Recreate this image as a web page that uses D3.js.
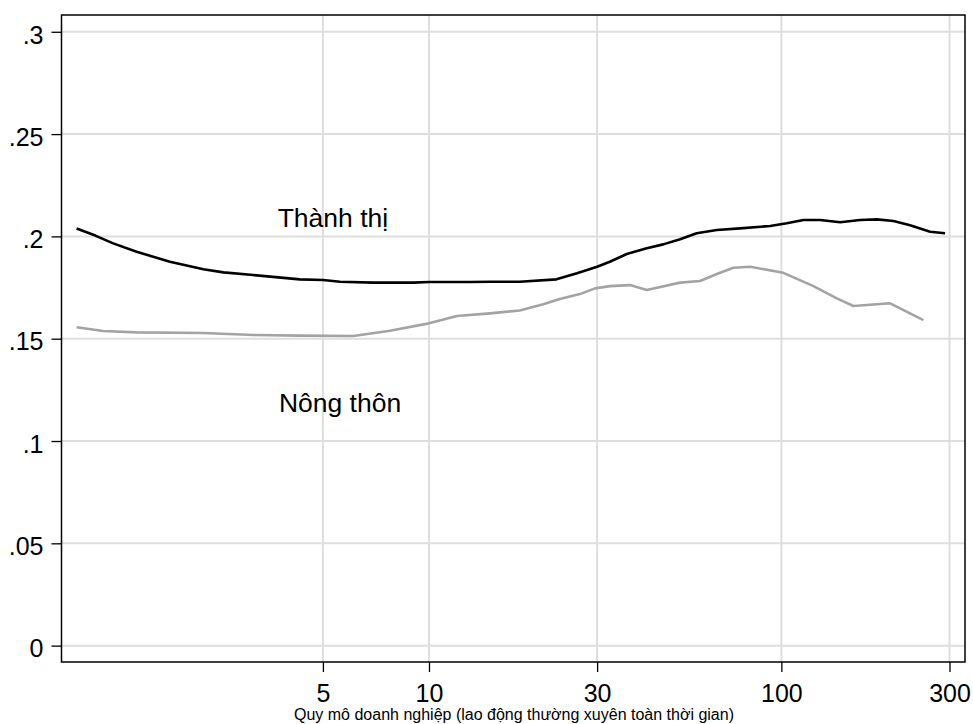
<html>
<head>
  <script type="text/javascript" src="https://cdn.jsdelivr.net/npm/d3@7"></script>
  <style>
  body { margin: 0; background: #fff; }
  text { font-family: Arial, "Liberation Sans", sans-serif; fill: #000; }
  </style>
</head>
<body>

<script type="text/javascript">
// firm size (full-time regular workers) and share
var urbanSize = [1, 1.13, 1.27, 1.48, 1.84, 2.29, 2.61, 3.17, 4.3, 5, 5.59, 6.95, 9.03, 10, 13.1, 14.9, 18.1,
                 23, 26.3, 30, 32.6, 36.4, 41.5, 46.2, 51.6, 57.5, 65.6, 76.3, 92.9, 103.6, 115.5, 128.8,
                 146.8, 167.3, 186.6, 208, 231.9, 264.3, 291.5];
var urbanValue = [0.2039, 0.2004, 0.1966, 0.1925, 0.1876, 0.1839, 0.1824, 0.1811, 0.1790, 0.1787, 0.1778,
                  0.1774, 0.1774, 0.1777, 0.1777, 0.1778, 0.1778, 0.1790, 0.1820, 0.1852, 0.1876, 0.1914,
                  0.1942, 0.1961, 0.1986, 0.2015, 0.2031, 0.2039, 0.2051, 0.2064, 0.2080, 0.2080, 0.2069,
                  0.2080, 0.2083, 0.2075, 0.2055, 0.2023, 0.2015];

var ruralSize = [1, 1.19, 1.48, 2.29, 3.17, 4.3, 6.1, 7.75, 10, 12, 14.9, 18.1, 21.1, 23.5, 26.8, 29.6,
                 32.6, 37.2, 41.5, 51.6, 58.8, 65.6, 73.1, 81.5, 101.3, 123.3, 143.7, 160.1, 203.5, 253];
var ruralValue = [0.1556, 0.1538, 0.1531, 0.1528, 0.1518, 0.1515, 0.1513, 0.1539, 0.1575, 0.1611, 0.1624,
                  0.1638, 0.1668, 0.1694, 0.1718, 0.1746, 0.1757, 0.1762, 0.1738, 0.1774, 0.1782, 0.1816,
                  0.1847, 0.1852, 0.1822, 0.1757, 0.1697, 0.1660, 0.1673, 0.1591];

var xTicks = [5, 10, 30, 100, 300];
var yTicks = [0, 0.05, 0.1, 0.15, 0.2, 0.25, 0.3];
var yTickLabels = ["0", ".05", ".1", ".15", ".2", ".25", ".3"];

var labels = [
  {text: "Thành thị", size: 3.72, value: 0.2046},
  {text: "Nông thôn", size: 3.75, value: 0.1142}
];
var xTitle = "Quy mô doanh nghiệp (lao động thường xuyên toàn thời gian)";

var W = 973, H = 724;
var mLeft = 61.5, mRight = 965, mTop = 15, mBottom = 662;

var svg = d3.select("body").append("svg")
  .attr("width", W)
  .attr("height", H);

var x = d3.scaleLog().domain([0.906, 332]).range([mLeft, mRight]);
var y = d3.scaleLinear().domain([-0.008, 0.3082]).range([mBottom, mTop]);

// grid
svg.append("g").selectAll("line")
  .data(yTicks)
  .enter().append("line")
  .attr("x1", mLeft).attr("x2", mRight)
  .attr("y1", function(d) { return y(d); })
  .attr("y2", function(d) { return y(d); })
  .attr("stroke", "#dedede")
  .attr("stroke-width", 2);

svg.append("g").selectAll("line")
  .data(xTicks)
  .enter().append("line")
  .attr("y1", mTop).attr("y2", mBottom)
  .attr("x1", function(d) { return x(d); })
  .attr("x2", function(d) { return x(d); })
  .attr("stroke", "#dedede")
  .attr("stroke-width", 2);

// axes
var yAxis = d3.axisLeft(y)
  .tickValues(yTicks)
  .tickSize(10)
  .tickPadding(8)
  .tickFormat(function(d, i) { return yTickLabels[i]; });

var xAxis = d3.axisBottom(x)
  .tickValues(xTicks)
  .tickSize(10)
  .tickPadding(4)
  .tickFormat(d3.format("d"));

var gy = svg.append("g")
  .attr("transform", "translate(" + mLeft + ",0)")
  .call(yAxis);
var gx = svg.append("g")
  .attr("transform", "translate(0," + mBottom + ")")
  .call(xAxis);

[gx, gy].forEach(function(g) {
  g.select(".domain").remove();
  g.selectAll(".tick line").attr("stroke", "#000").attr("stroke-width", 1.3);
  g.selectAll(".tick text")
    .attr("font-size", 25)
    .attr("font-family", "Arial, 'Liberation Sans', sans-serif")
    .attr("fill", "#000");
});
gy.selectAll(".tick text").attr("dy", "0.45em");
gx.selectAll(".tick text").attr("dy", "26px");

// lines
var line = d3.line()
  .x(function(d) { return x(d[0]); })
  .y(function(d) { return y(d[1]); });

svg.append("path")
  .datum(d3.zip(ruralSize, ruralValue))
  .attr("d", line)
  .attr("fill", "none")
  .attr("stroke", "#a3a3a3")
  .attr("stroke-width", 2.6)
  .attr("stroke-linejoin", "round");

svg.append("path")
  .datum(d3.zip(urbanSize, urbanValue))
  .attr("d", line)
  .attr("fill", "none")
  .attr("stroke", "#000")
  .attr("stroke-width", 2.6)
  .attr("stroke-linejoin", "round");

// frame
svg.append("rect")
  .attr("x", mLeft).attr("y", mTop)
  .attr("width", mRight - mLeft).attr("height", mBottom - mTop)
  .attr("fill", "none")
  .attr("stroke", "#000")
  .attr("stroke-width", 1.5);

svg.selectAll(".lbl")
  .data(labels)
  .enter().append("text")
  .attr("class", "lbl")
  .attr("x", function(d) { return x(d.size); })
  .attr("y", function(d) { return y(d.value); })
  .attr("font-size", 26.5)
  .text(function(d) { return d.text; });

svg.append("text")
  .attr("x", 514)
  .attr("y", 720)
  .attr("text-anchor", "middle")
  .attr("font-size", 16)
  .text(xTitle);
</script>

</body>
</html>
